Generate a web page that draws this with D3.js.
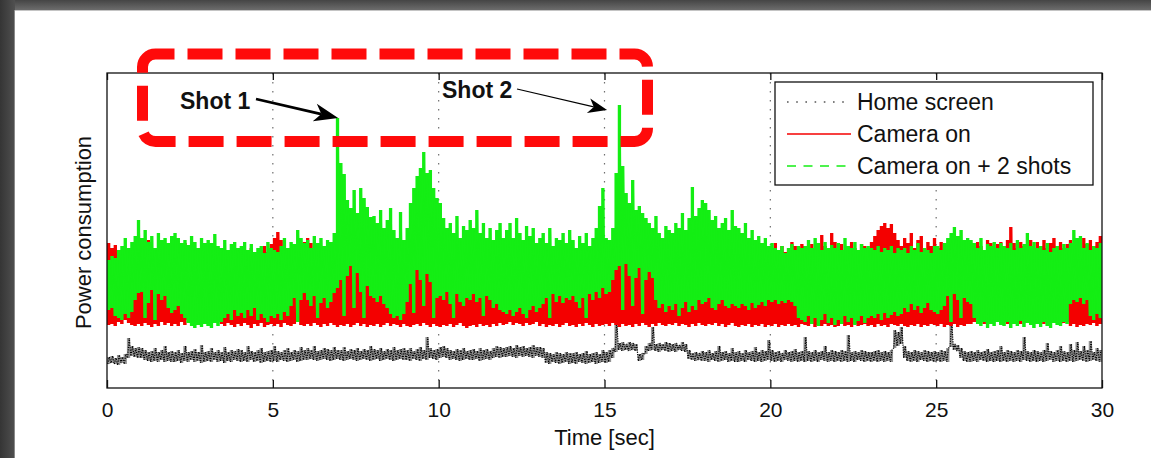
<!DOCTYPE html>
<html>
<head>
<meta charset="utf-8">
<script src="https://cdn.jsdelivr.net/npm/d3@7/dist/d3.min.js"></script>
<style>
  html, body { margin: 0; padding: 0; background: #fff; }
  svg { display: block; }
  text { font-family: "Liberation Sans", Arial, Helvetica, sans-serif; }
</style>
</head>
<body>
<svg id="chart" width="1151" height="458"></svg>
<script>
// ---- data -------------------------------------------------------------
// Power traces, one min/max pair per 0.1 s bin (arbitrary power units).
const timeStep = 0.1;
const xTicks = [0, 5, 10, 15, 20, 25, 30];
const seriesNames = ["Home screen", "Camera on", "Camera on + 2 shots"];
const shotLabels = ["Shot 1", "Shot 2"];

// Home screen (black, dotted)
const homeLo = [
  24,25,24,23,25,24,30,32,31,30, 30,28,27,26,27,26,28,26,27,26, 26,27,25,27,26,28,26,27,25,26,
  27,26,28,26,27,25,27,26,28,27, 26,27,26,28,26,27,25,26,27,26, 27,26,28,27,26,27,28,26,27,28,
  28,29,28,27,28,29,28,27,28,29, 28,27,28,29,28,27,28,29,28,27, 28,29,27,28,29,28,27,28,29,28,
  28,27,29,28,27,29,28,30,29,28, 30,31,30,28,29,28,27,28,29,28, 28,29,27,28,29,28,30,31,30,31,
  31,32,31,30,32,31,32,31,30,32, 31,30,25,24,26,25,24,25,26,24, 25,24,26,25,24,25,26,24,25,26,
  25,26,30,36,38,37,38,37,38,37, 27,28,34,37,38,37,36,38,37,36, 37,36,38,37,36,29,28,27,28,27,
  27,26,28,27,26,27,28,26,27,26, 26,27,26,28,27,26,27,26,27,28, 27,26,27,26,28,27,26,27,26,27,
  26,27,26,27,26,28,27,26,27,26, 27,26,27,26,27,26,28,27,26,27, 26,27,26,27,26,27,26,40,42,44,
  30,27,26,27,26,28,27,26,27,26, 27,26,27,26,41,38,37,30,27,26, 26,27,26,28,27,26,27,26,27,26,
  27,26,27,26,27,26,28,27,26,27, 26,27,26,27,28,26,27,26,27,26, 27,26,27,28,27,26,27,28,27,26
];
const homeHi = [
  31,32,30,33,31,34,50,42,40,41, 40,38,36,37,40,36,38,42,36,37, 36,38,35,42,36,37,39,36,43,36,
  37,40,36,38,36,41,36,38,37,39, 38,36,42,37,36,38,40,36,37,38, 42,37,36,38,40,36,38,37,41,38,
  40,38,42,37,38,40,39,38,41,38, 38,41,37,39,38,40,37,39,38,42, 39,38,40,37,39,38,41,38,39,40,
  38,40,37,39,41,38,51,40,38,39, 41,42,40,38,37,39,38,40,37,38, 39,37,40,38,39,37,40,42,41,40,
  41,42,40,43,41,42,40,41,43,41, 41,40,36,35,34,36,35,34,36,35, 35,36,34,35,37,34,35,36,34,38,
  36,38,40,68,45,46,44,46,45,44, 34,35,42,45,61,44,45,44,46,45, 44,45,43,46,44,38,35,36,35,37,
  36,38,35,37,42,36,37,35,40,36, 37,35,38,36,37,41,36,38,37,48, 38,36,37,35,38,36,37,39,36,37,
  51,37,36,38,36,37,42,36,38,37, 36,38,37,53,36,37,36,38,37,36, 36,37,38,36,37,36,38,58,56,61,
  42,37,36,38,37,36,38,37,36,37, 36,38,37,40,68,44,43,40,37,36, 37,36,38,36,37,39,36,37,38,42,
  36,38,37,36,38,37,51,37,36,38, 37,36,38,45,37,36,38,42,37,36, 44,38,46,37,42,38,47,36,40,38
];

// Camera on (red, solid)
const camLo = [
  63,64,62,66,64,68,65,63,62,64, 62,65,63,61,64,62,66,63,65,62, 64,62,66,63,68,66,67,65,68,66,
  66,68,65,67,64,62,65,63,61,64, 62,65,63,60,64,62,65,61,63,64, 62,64,61,65,63,62,64,66,63,62,
  64,62,65,63,61,64,62,65,63,61, 63,62,64,61,63,65,62,64,61,63, 62,64,61,63,65,62,64,63,61,64,
  62,61,63,64,62,65,63,61,64,62, 61,63,62,64,61,63,65,62,60,62, 63,61,64,62,63,61,64,62,65,63,
  64,66,63,65,64,62,65,63,64,66, 62,64,61,63,62,64,61,63,65,62, 63,61,64,62,65,63,61,64,62,63,
  64,62,65,63,61,64,62,63,61,64, 62,65,63,61,64,62,65,63,62,64, 63,65,62,64,63,61,64,62,65,63,
  62,64,63,65,62,64,61,63,65,62, 61,63,62,64,61,63,62,64,61,63, 62,64,61,63,62,64,62,63,61,64,
  63,62,64,61,63,62,64,62,63,61, 62,64,62,63,61,64,62,63,64,62, 63,61,64,62,63,61,64,63,62,64,
  62,61,63,62,64,61,63,62,64,63, 62,64,61,63,62,64,61,63,62,64, 64,66,65,67,64,66,65,67,66,65,
  66,64,67,65,66,64,67,65,66,65, 65,67,64,66,65,67,66,64,65,66, 62,64,61,63,62,64,63,65,62,64
];
const camHi = [
  145,140,143,136,130,134,128,138,135,140, 132,138,148,130,135,128,136,132,130,138,
  134,130,142,145,128,132,136,130,126,132, 130,136,128,134,140,132,126,135,138,130,
  132,128,136,140,134,130,138,142,136,144, 150,156,148,140,135,132,138,134,140,146,
  150,145,138,132,140,136,130,138,134,130, 128,132,126,130,124,128,132,126,130,128,
  126,130,134,128,132,126,130,128,134,130, 128,126,132,130,128,134,132,130,128,132,
  130,128,126,132,130,128,134,130,126,132, 134,130,128,132,136,130,128,134,130,132,
  130,134,128,132,130,136,132,128,134,130, 132,128,134,130,136,132,130,134,128,138,
  134,140,132,138,130,136,142,134,138,132, 136,132,130,134,140,132,136,130,134,138,
  132,136,130,134,138,132,136,140,134,138, 138,134,140,136,142,138,134,140,136,144,
  136,140,134,138,132,136,140,134,138,136, 138,134,140,136,138,134,140,136,142,138,
  140,145,138,142,136,140,146,142,138,144, 142,138,144,140,138,153,142,140,155,146,
  140,144,138,142,146,140,138,144,142,140, 146,152,158,162,165,160,164,155,148,142,
  150,145,155,140,148,152,138,146,142,150, 140,146,138,144,148,142,140,145,142,148,
  144,140,146,142,138,148,145,140,144,146, 142,148,161,145,140,146,142,144,148,140,
  146,142,148,140,145,150,142,146,140,144, 148,142,146,140,150,144,148,142,146,152
];

// Camera on + 2 shots (green, dashed)
const shotsLo = [
  78,80,72,70,68,74,70,76,88,95, 96,70,85,98,68,94,88,92,80,75, 78,82,74,70,65,62,60,63,61,64,
  62,60,65,62,66,70,74,68,78,72, 75,70,78,72,80,68,74,70,66,72, 70,74,68,76,72,82,90,66,88,95,
  88,82,92,70,85,90,80,86,95,100, 108,72,112,122,80,115,96,70,102,92, 90,86,92,84,80,74,70,72,68,74,
  86,104,75,118,108,82,114,106,70,90, 92,88,96,84,70,94,86,82,90,88, 94,86,90,72,92,88,80,84,78,76,
  74,78,72,76,80,74,70,78,82,76, 80,84,90,70,94,86,92,85,90,88, 92,86,80,90,70,94,88,96,90,100,
  94,96,108,118,122,78,124,112,82,110, 120,74,108,116,110,88,80,84,76,82, 78,84,72,80,86,76,82,78,88,84,
  86,90,80,78,84,88,82,80,84,82, 80,84,82,78,85,80,83,86,82,88, 86,88,84,87,85,88,86,82,70,68,
  66,72,64,70,62,68,74,65,70,63, 68,64,72,66,70,63,67,72,65,70, 72,70,74,68,75,70,73,76,72,74,
  80,76,84,78,82,75,80,85,78,76, 74,78,82,92,66,94,88,70,90,86, 84,70,64,62,66,60,64,62,66,63,
  62,66,60,64,62,67,61,65,63,60, 64,61,66,62,60,65,63,62,66,64, 84,88,86,90,84,88,72,68,74,70
];
const shotsHi = [
  128,132,130,138,142,150,140,146,152,168, 150,158,146,152,140,155,148,150,145,152,
  155,150,145,148,143,152,146,140,150,145, 148,145,154,142,140,148,138,144,146,140,
  142,146,138,144,136,140,142,135,146,140, 138,136,142,150,140,146,144,158,150,145,
  148,140,152,145,150,142,148,146,155,270, 225,214,188,180,198,175,200,190,181,171,
  172,165,178,160,168,180,158,150,176,148, 160,185,200,212,220,236,215,218,200,190,
  185,170,160,165,155,172,150,162,158,168, 160,178,155,165,150,160,148,158,165,150,
  158,165,150,170,155,148,162,152,160,145, 150,155,145,160,142,150,148,155,145,158,
  148,140,152,145,155,142,150,160,182,200, 150,148,160,215,283,222,195,185,208,178,
  182,175,170,165,160,172,155,150,162,158, 155,165,160,175,158,170,201,172,180,188,
  185,178,168,172,160,165,170,158,178,162, 160,155,165,150,158,148,152,145,150,142,
  145,140,138,142,135,140,144,138,142,140, 142,148,140,150,145,138,146,140,143,140,
  145,138,150,142,140,146,138,144,140,142, 140,138,142,136,140,138,142,135,140,138,
  140,135,142,138,145,136,140,138,135,142, 142,138,145,150,155,161,152,158,148,150,
  148,145,140,150,138,144,142,146,140,145, 142,140,145,138,148,140,144,155,142,146,
  140,142,138,145,136,140,142,138,144,140, 145,158,150,152,140,145,138,142,140,145
];

// ---- layout -----------------------------------------------------------
const svg = d3.select("#chart");
const W = 1151, H = 458;
const plot = { left: 107, right: 1102, top: 73, bottom: 388 };

const x = d3.scaleLinear().domain([0, 30]).range([plot.left, plot.right]);
const y = d3.scaleLinear().domain([0, 315]).range([plot.bottom, plot.top]);

// page frame: dark edges on top and left
const defs = svg.append("defs");
const gTop = defs.append("linearGradient").attr("id", "edgeTop")
  .attr("x1", 0).attr("y1", 0).attr("x2", 0).attr("y2", 1);
gTop.append("stop").attr("offset", "0%").attr("stop-color", "#454545");
gTop.append("stop").attr("offset", "100%").attr("stop-color", "#6c6c6c");
const gLeft = defs.append("linearGradient").attr("id", "edgeLeft")
  .attr("x1", 0).attr("y1", 0).attr("x2", 1).attr("y2", 0);
gLeft.append("stop").attr("offset", "0%").attr("stop-color", "#353535");
gLeft.append("stop").attr("offset", "100%").attr("stop-color", "#505050");

svg.append("rect").attr("width", W).attr("height", H).attr("fill", "#fff");
svg.append("rect").attr("x", 0).attr("y", 0).attr("width", W).attr("height", 10).attr("fill", "url(#edgeTop)");
svg.append("rect").attr("x", 0).attr("y", 0).attr("width", 15).attr("height", H).attr("fill", "url(#edgeLeft)");
svg.append("line").attr("x1", 15).attr("x2", W).attr("y1", 10.5).attr("y2", 10.5).attr("stroke", "#c4c4c4");
svg.append("line").attr("x1", 14.5).attr("x2", 14.5).attr("y1", 10).attr("y2", H).attr("stroke", "#8a8a8a");

defs.append("clipPath").attr("id", "plotClip").append("rect")
  .attr("x", plot.left).attr("y", plot.top)
  .attr("width", plot.right - plot.left).attr("height", plot.bottom - plot.top);

// vertical dotted grid
svg.append("g").selectAll("line").data(xTicks.slice(1, -1)).join("line")
  .attr("x1", d => x(d)).attr("x2", d => x(d))
  .attr("y1", plot.top).attr("y2", plot.bottom)
  .attr("stroke", "#6e6e6e").attr("stroke-width", 1.2)
  .attr("stroke-dasharray", "1.4,7.6");

// ---- traces -----------------------------------------------------------
// per-bin extent as a stepped band
function bins(lo, hi) {
  const rows = lo.map((v, i) => ({ t: i * timeStep, lo: v, hi: hi[i] }));
  const last = rows[rows.length - 1];
  rows.push({ t: lo.length * timeStep, lo: last.lo, hi: last.hi });
  return rows;
}
// each bin contributes its minimum then its maximum, giving the jagged trace
function trace(lo, hi) {
  const pts = [];
  for (let i = 0; i < lo.length; i++) {
    pts.push([i * timeStep + timeStep * 0.2, lo[i]]);
    pts.push([i * timeStep + timeStep * 0.7, hi[i]]);
  }
  return pts;
}
const band = d3.area().curve(d3.curveStepAfter)
  .x(d => x(d.t)).y0(d => y(d.lo)).y1(d => y(d.hi));
const line = d3.line().x(d => x(d[0])).y(d => y(d[1]));
const traces = svg.append("g").attr("clip-path", "url(#plotClip)");

function drawSeries(lo, hi, color, bandOpacity, lineWidth, dash) {
  traces.append("path").datum(bins(lo, hi)).attr("d", band)
    .attr("fill", color).attr("fill-opacity", bandOpacity);
  traces.append("path").datum(trace(lo, hi)).attr("d", line)
    .attr("fill", "none").attr("stroke", color).attr("stroke-width", lineWidth)
    .attr("stroke-dasharray", dash).attr("stroke-linejoin", "bevel");
}
drawSeries(homeLo, homeHi, "#000", 0.42, 1.2, "1.2,1.2");
drawSeries(camLo, camHi, "#f40000", 1, 1.1, null);
drawSeries(shotsLo, shotsHi, "#14ee14", 1, 1.1, null);

// ---- axes box ---------------------------------------------------------
svg.append("rect").attr("x", plot.left).attr("y", plot.top)
  .attr("width", plot.right - plot.left).attr("height", plot.bottom - plot.top)
  .attr("fill", "none").attr("stroke", "#111").attr("stroke-width", 1.3);

const xAxis = svg.append("g").attr("transform", `translate(0,${plot.bottom})`)
  .call(d3.axisBottom(x).tickValues(xTicks).tickSizeInner(-8).tickSizeOuter(0).tickPadding(14.5)
    .tickFormat(d3.format("d")));
xAxis.select(".domain").remove();
xAxis.selectAll(".tick line").attr("stroke", "#111").attr("stroke-width", 1.3);
xAxis.selectAll(".tick text").attr("font-size", 21).attr("fill", "#111")
  .attr("font-family", "'Liberation Sans', Arial, sans-serif");

// top ticks
const xTop = svg.append("g").attr("transform", `translate(0,${plot.top})`)
  .call(d3.axisTop(x).tickValues(xTicks).tickSizeInner(-7).tickSizeOuter(0).tickFormat(""));
xTop.select(".domain").remove();
xTop.selectAll(".tick line").attr("stroke", "#111").attr("stroke-width", 1.3);

svg.append("text").attr("x", x(15)).attr("y", 445).attr("text-anchor", "middle")
  .attr("font-size", 22).attr("fill", "#111").text("Time [sec]");
svg.append("text").attr("transform", `translate(91,${(plot.top + plot.bottom) / 2 + 2}) rotate(-90)`)
  .attr("text-anchor", "middle").attr("font-size", 22).attr("fill", "#111").text("Power consumption");

// ---- legend -----------------------------------------------------------
const lg = svg.append("g");
lg.append("rect").attr("x", 775).attr("y", 82).attr("width", 318).attr("height", 103)
  .attr("fill", "#fff").attr("stroke", "#111").attr("stroke-width", 1.3);
const legendStyles = [
  { color: "#555", width: 1.6, dash: "1.6,7.6" },
  { color: "#f40000", width: 1.6, dash: null },
  { color: "#14ee14", width: 1.6, dash: "9,7.5" }
];
seriesNames.forEach((name, i) => {
  const cy = 102 + i * 32;
  lg.append("line").attr("x1", 787).attr("x2", 851).attr("y1", cy).attr("y2", cy)
    .attr("stroke", legendStyles[i].color).attr("stroke-width", legendStyles[i].width)
    .attr("stroke-dasharray", legendStyles[i].dash);
  lg.append("text").attr("x", 857).attr("y", cy + 8).attr("font-size", 23).attr("fill", "#111").text(name);
});

// ---- shot annotations -------------------------------------------------
function peakOf(t0, t1) {
  let best = null;
  shotsHi.forEach((v, i) => {
    const t = i * timeStep + timeStep * 0.7;
    if (t >= t0 && t <= t1 && (!best || v > best.v)) best = { t, v };
  });
  return best;
}
const peak1 = peakOf(6, 8), peak2 = peakOf(15, 16);

function arrow(from, to, lw, headLen, headHalf) {
  const dx = to[0] - from[0], dy = to[1] - from[1];
  const len = Math.hypot(dx, dy), ux = dx / len, uy = dy / len;
  const nx = -uy, ny = ux;
  const bx = to[0] - ux * headLen, by = to[1] - uy * headLen;
  const notch = [to[0] - ux * headLen * 0.72, to[1] - uy * headLen * 0.72];
  const g = svg.append("g");
  g.append("line").attr("x1", from[0]).attr("y1", from[1]).attr("x2", notch[0]).attr("y2", notch[1])
    .attr("stroke", "#000").attr("stroke-width", lw);
  g.append("path")
    .attr("d", `M${to[0]},${to[1]} L${bx + nx * headHalf},${by + ny * headHalf} L${notch[0]},${notch[1]} L${bx - nx * headHalf},${by - ny * headHalf} Z`)
    .attr("fill", "#000");
}

const tip1 = [x(peak1.t), y(peak1.v)];
svg.append("text").attr("x", 180).attr("y", 109).attr("font-size", 23).attr("font-weight", "bold")
  .attr("fill", "#111").text(shotLabels[0]);
arrow([256, 99], tip1, 2.8, 24, 9);

const tip2 = [x(peak2.t) - 13, y(peak2.v) + 5];
svg.append("text").attr("x", 442).attr("y", 98).attr("font-size", 23).attr("font-weight", "bold")
  .attr("fill", "#111").text(shotLabels[1]);
arrow([517, 89], tip2, 1.2, 19, 7.5);

// highlight around the two shot peaks
svg.append("rect").attr("x", 142.5).attr("y", 54).attr("width", 505).attr("height", 87.5)
  .attr("rx", 13).attr("ry", 13).attr("fill", "none")
  .attr("stroke", "#ff0a0a").attr("stroke-width", 11)
  .attr("stroke-dasharray", "35,13").attr("stroke-dashoffset", 16);
</script>
</body>
</html>
